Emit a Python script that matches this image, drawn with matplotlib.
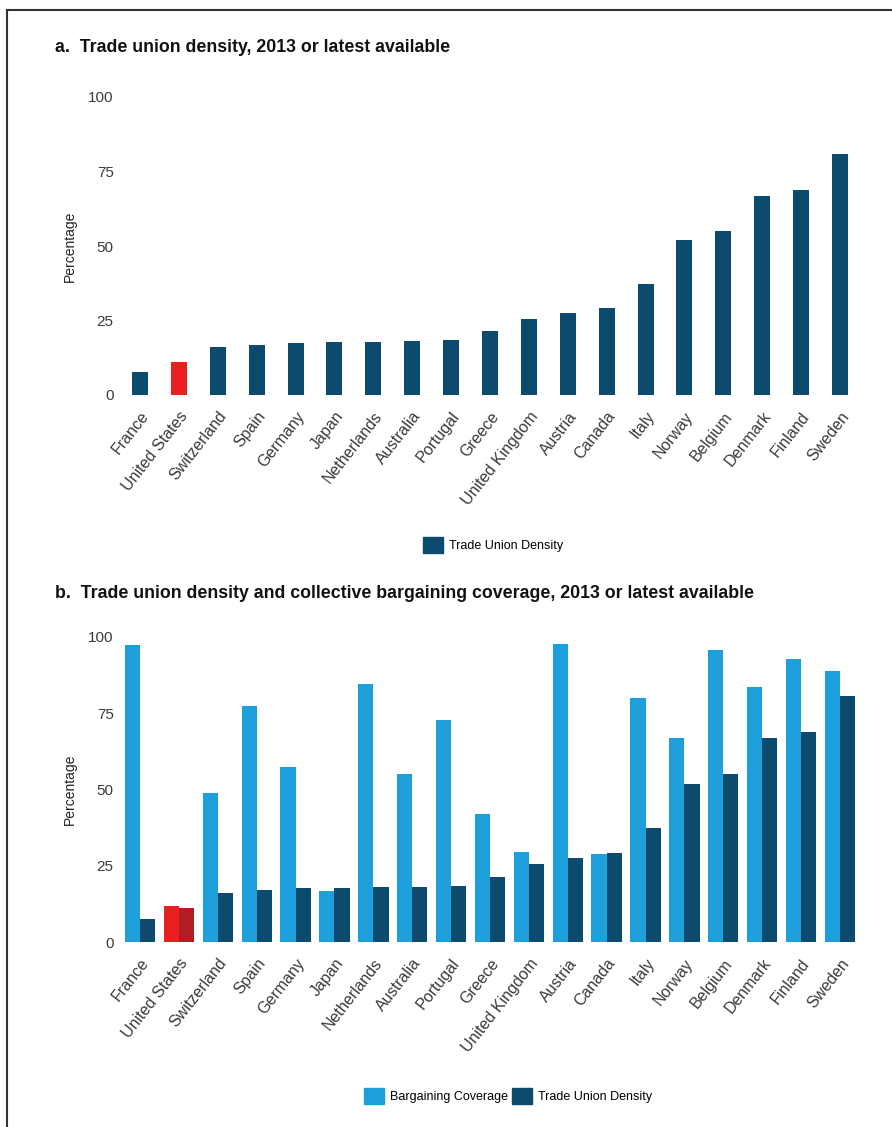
import matplotlib
matplotlib.use("Agg")
import matplotlib.pyplot as plt
import numpy as np
from matplotlib.patches import Patch
from matplotlib.lines import Line2D

plt.rcParams['font.family'] = ['Liberation Sans', 'DejaVu Sans']

countries = ["France", "United States", "Switzerland", "Spain", "Germany", "Japan",
             "Netherlands", "Australia", "Portugal", "Greece", "United Kingdom",
             "Austria", "Canada", "Italy", "Norway", "Belgium", "Denmark",
             "Finland", "Sweden"]
union_density = [7.7, 11.0, 16.0, 16.9, 17.6, 17.7, 17.9, 18.1, 18.5, 21.4, 25.6,
                 27.4, 29.3, 37.3, 51.9, 55.0, 66.8, 68.8, 80.8]
bargaining_coverage = [97.5, 11.9, 48.8, 77.3, 57.5, 16.6, 84.5, 55.0, 72.7, 41.9,
                       29.4, 97.8, 28.8, 80.0, 67.0, 95.8, 83.6, 92.8, 88.9]
yticks = [0, 25, 50, 75, 100]

dark_blue = "#0c4a6e"
light_blue = "#1c9fdb"
red = "#e8201f"
dark_red = "#b01e22"
highlight = "United States"

W, H = 892, 1127
fig = plt.figure(figsize=(W / 100, H / 100), dpi=100)

def fx(px):
    return px / W

def fy(py):
    return 1 - py / H

x = np.arange(len(countries))

def style_axes(ax):
    for s in ax.spines.values():
        s.set_visible(False)
    ax.set_xlim(-0.5, len(countries) - 0.5)
    ax.set_ylim(0, 100)
    ax.set_yticks(yticks)
    ax.set_yticklabels([str(t) for t in yticks], fontsize=11, color="#3a3a3a")
    ax.tick_params(axis='y', length=0, pad=5)
    ax.tick_params(axis='x', length=0, pad=10)
    ax.set_xticks(x)
    ax.set_xticklabels(countries, rotation=52, ha='right', va='top',
                       rotation_mode='anchor', fontsize=11.5, color="#3a3a3a")
    ax.set_ylabel("Percentage", fontsize=10, color="#222222", labelpad=8)

# Panel a
axa = fig.add_axes([fx(120.6), fy(395), fx(859.4) - fx(120.6), fy(97) - fy(395)])
cols_a = [red if c == highlight else dark_blue for c in countries]
axa.bar(x, union_density, width=0.41, color=cols_a)
style_axes(axa)
fig.text(fx(55), fy(47), "a.  Trade union density, 2013 or latest available",
         fontsize=12.8, fontweight='bold', va='center', ha='left', color="#111111")
fig.legend(handles=[Patch(color=dark_blue, label="Trade Union Density")],
           loc='center', bbox_to_anchor=(fx(493), fy(545)), frameon=False,
           fontsize=9, handlelength=1.6, handleheight=1.6, handletextpad=0.5)

# Panel b
axb = fig.add_axes([fx(120.6), fy(942), fx(859.4) - fx(120.6), fy(637) - fy(942)])
bw = 0.39
cols_bc = [red if c == highlight else light_blue for c in countries]
cols_td = [dark_red if c == highlight else dark_blue for c in countries]
axb.bar(x - bw / 2, bargaining_coverage, width=bw, color=cols_bc)
axb.bar(x + bw / 2, union_density, width=bw, color=cols_td)
style_axes(axb)
fig.text(fx(55), fy(593),
         "b.  Trade union density and collective bargaining coverage, 2013 or latest available",
         fontsize=12.8, fontweight='bold', va='center', ha='left', color="#111111")
fig.legend(handles=[Patch(color=light_blue, label="Bargaining Coverage"),
                    Patch(color=dark_blue, label="Trade Union Density")],
           loc='center', bbox_to_anchor=(fx(508), fy(1096)), frameon=False, ncol=2,
           fontsize=9, handlelength=1.6, handleheight=1.6, handletextpad=0.5,
           columnspacing=0.3)

# frame
fig.add_artist(Line2D([fx(7), fx(7)], [fy(10), 0], color="#333333", lw=1.5))
fig.add_artist(Line2D([fx(7), 1], [fy(10), fy(10)], color="#333333", lw=1.5))

fig.savefig("out.png", dpi=100)
